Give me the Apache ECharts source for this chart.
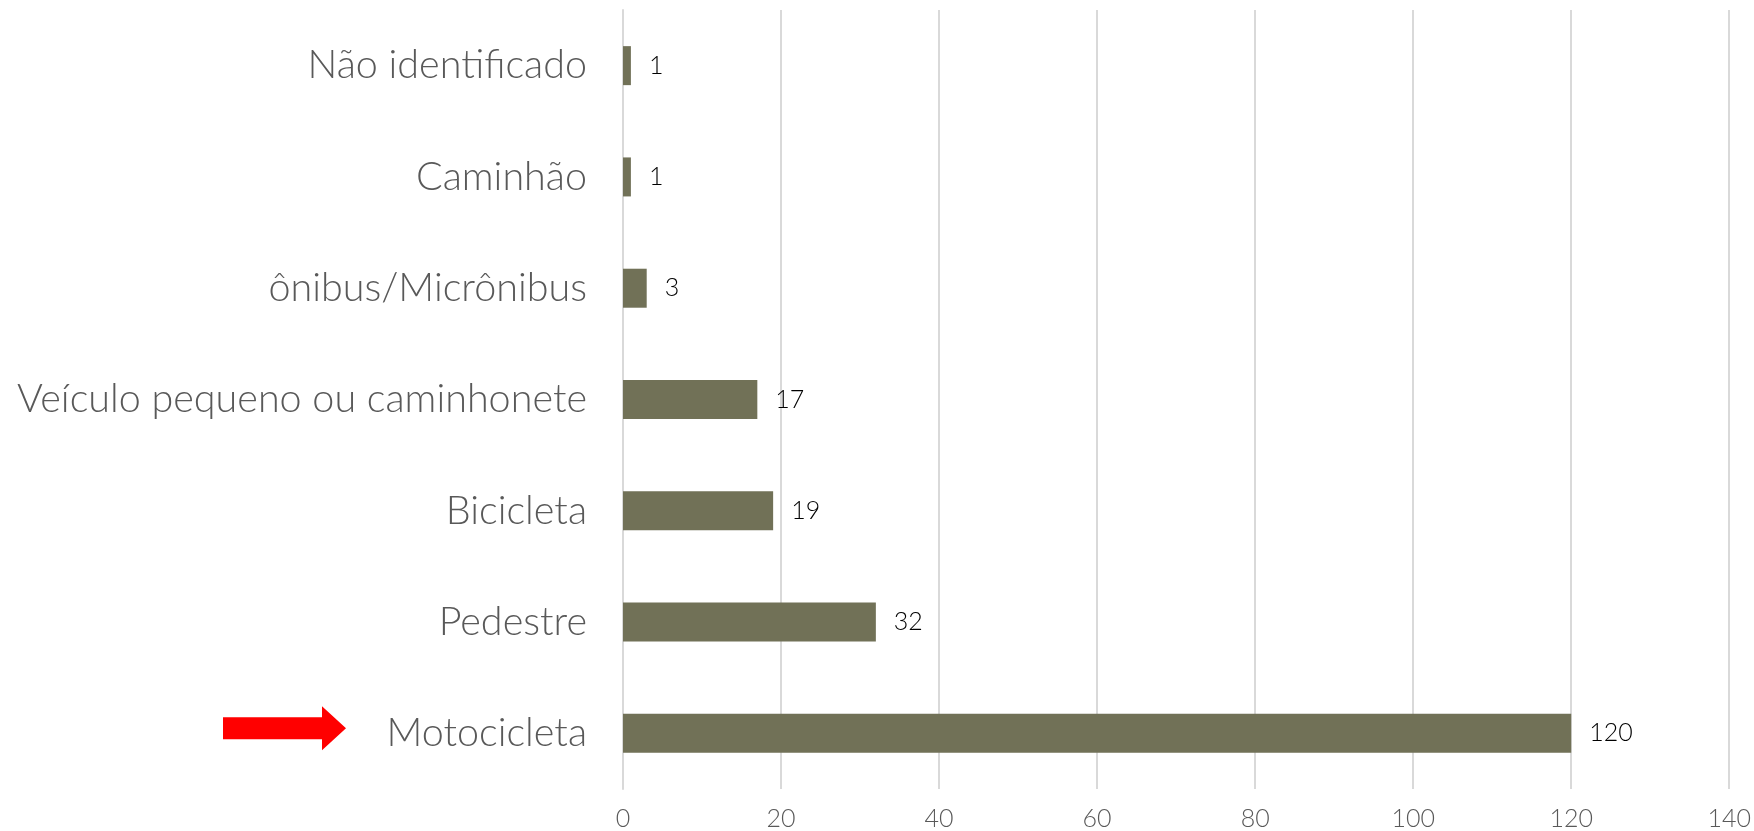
<!DOCTYPE html>
<html>
<head>
<meta charset="utf-8">
<script src="https://cdn.jsdelivr.net/npm/echarts@6/dist/echarts.min.js"></script>
<style>
html,body{margin:0;padding:0;background:#fff;}
#chart{width:1754px;height:831px;}
</style>
</head>
<body>
<div id="chart"></div>
<script>
const categories = ["Motocicleta", "Pedestre", "Bicicleta", "Veículo pequeno ou caminhonete", "ônibus/Micrônibus", "Caminhão", "Não identificado"];
const values = [120, 32, 19, 17, 3, 1, 1];
const xTicks = { min: 0, max: 140, interval: 20 };
const highlighted = "Motocicleta";

const FONT = "Lato, 'Open Sans', sans-serif";
const chart = echarts.init(document.getElementById('chart'), null, { renderer: 'canvas' });
chart.setOption({
  animation: false,
  backgroundColor: '#ffffff',
  grid: { left: 623, right: 24, top: 10, bottom: 42, containLabel: false },
  xAxis: {
    type: 'value', min: xTicks.min, max: xTicks.max, interval: xTicks.interval,
    axisLine: { show: false }, axisTick: { show: false },
    splitLine: { show: true, lineStyle: { color: '#d9d9d9', width: 2 } },
    axisLabel: { color: '#595959', fontFamily: FONT, fontWeight: 300, fontSize: 25, margin: 17 }
  },
  yAxis: {
    type: 'category', data: categories,
    axisLine: { show: true, lineStyle: { color: '#d9d9d9', width: 2 } },
    axisTick: { show: false },
    axisLabel: { color: '#595959', fontFamily: FONT, fontWeight: 300, fontSize: 39.5, margin: 36 }
  },
  series: [{
    type: 'bar', data: values, barWidth: 39,
    itemStyle: { color: '#717157' },
    label: { show: true, position: 'right', distance: 18, color: '#000000', fontFamily: FONT, fontWeight: 300, fontSize: 25 }
  }]
});

const yc = chart.convertToPixel({ yAxisIndex: 0 }, highlighted) - 5;
chart.setOption({
  graphic: [{
    type: 'polygon',
    shape: { points: [[223, yc - 11], [322, yc - 11], [322, yc - 22], [346, yc], [322, yc + 22], [322, yc + 11], [223, yc + 11]] },
    style: { fill: '#ff0000' }
  }]
});
</script>
</body>
</html>
